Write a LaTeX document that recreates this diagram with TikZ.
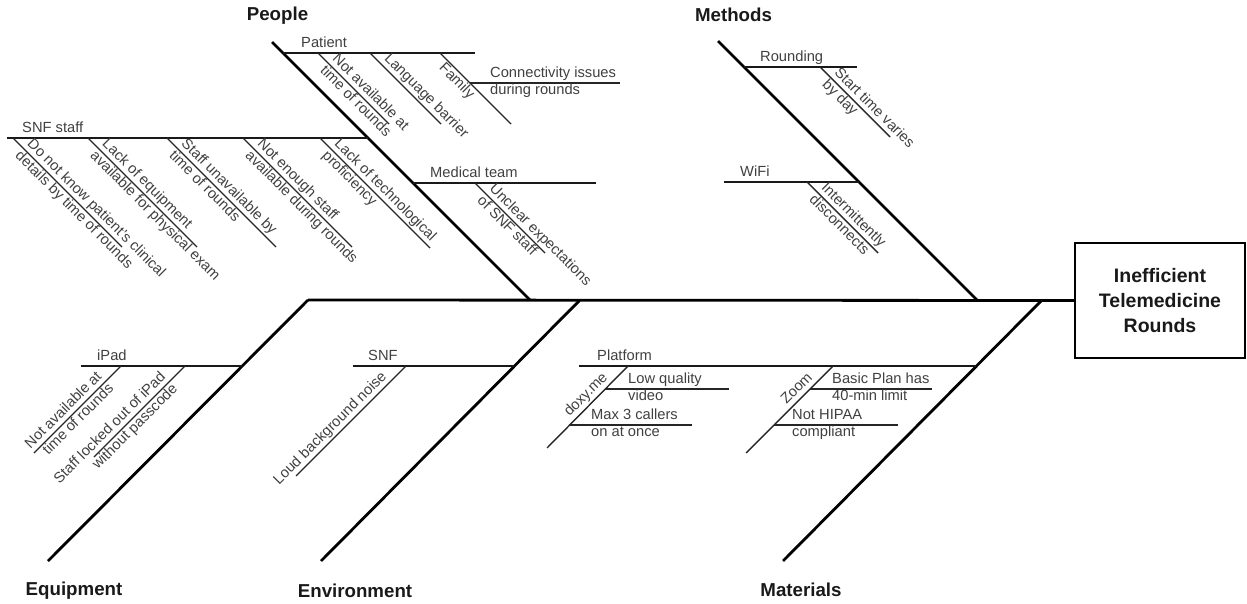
\documentclass[tikz,border=0pt]{standalone}
\usepackage{fontspec}
\setmainfont{Liberation Sans}
\newcommand\fsn{\fontsize{14.7}{17}\selectfont}
\newcommand\fsb{\fontsize{18.7}{22}\selectfont\bfseries}
\newcommand\fsbox{\fontsize{19.5}{25}\selectfont\bfseries}
\newcommand\twol[2]{\strut#1\\\strut#2}
\newcommand\onel[1]{\strut#1}
\tikzset{
  bone/.style={line width=2.8pt, black},
  catline/.style={line width=1.8pt, black!90},
  subline/.style={line width=1.4pt, black!85},
  txt/.style={font=\fsn, text=black!75, inner sep=0pt},
  dr2/.style={txt, align=left, rotate=-45, anchor=west},
  dra/.style={txt, rotate=-45, anchor=south west},
  drb/.style={txt, rotate=-45, anchor=north west},
  ul2/.style={txt, align=right, rotate=45, anchor=east},
  ula/.style={txt, rotate=45, anchor=south east},
  hz2/.style={txt, align=left, anchor=west},
  hza/.style={txt, anchor=south west},
  cattitle/.style={font=\fsb, text=black!90, inner sep=0pt},
  effect/.style={draw, line width=2.3pt, minimum width=170pt, minimum height=115pt,
                 align=center, font=\fsbox, text=black!90, inner sep=0pt}
}
\begin{document}
\begin{tikzpicture}[x=1pt, y=-1pt, line cap=butt]
\useasboundingbox (0,0) rectangle (1247,604);

% effect box and spine
\node[effect] (eff) at (1160,300.5) {Inefficient\\Telemedicine\\Rounds};
\coordinate (spL) at (308,300);
\draw[bone] (spL) -- (eff.west);

% main bones
\coordinate (pT) at (272,42);   \coordinate (pB) at (530,300);
\coordinate (mT) at (718,41);   \coordinate (mB) at (977,300);
\coordinate (eT) at (308,300);  \coordinate (eB) at (48,561);
\coordinate (nT) at (580,300);  \coordinate (nB) at (321,561);
\coordinate (aT) at (1042,300); \coordinate (aB) at (783,561);
\draw[bone] (pT) -- (pB);
\draw[bone] (mT) -- (mB);
\draw[bone] (eT) -- (eB);
\draw[bone] (nT) -- (nB);
\draw[bone] (aT) -- (aB);

% category titles
\node[cattitle] (tPeople) at (277.5,16) {People};
\node[cattitle] (tMethods) at (733.5,15) {Methods};
\node[cattitle] (tEquip) at (74,591) {Equipment};
\node[cattitle] (tEnv) at (355,591) {Environment};
\node[cattitle] (tMat) at (801,590) {Materials};

% ---------- People ----------
\coordinate (paL) at (283,53); \coordinate (paR) at (475,53);
\draw[catline] (paL) -- (paR);
\node[hza] (lPatient) at (301,53) {\onel{Patient}};

\coordinate (pa1a) at (318,53); \coordinate (pa1b) at (389,124);
\draw[subline] (pa1a) -- (pa1b);
\node[dr2] (tpa1) at (328,63) {\twol{Not available at}{time of rounds}};

\coordinate (pa2a) at (370,53); \coordinate (pa2b) at (441,124);
\draw[subline] (pa2a) -- (pa2b);
\node[dra] (tpa2) at (380,63) {\onel{Language barrier}};

\coordinate (pa3a) at (440,53); \coordinate (pa3b) at (511,124);
\draw[subline] (pa3a) -- (pa3b);
\node[drb] (tpa3) at (447,60) {\onel{Family}};

\coordinate (pa4a) at (470,83); \coordinate (pa4b) at (620,83);
\draw[subline] (pa4a) -- (pa4b);
\node[hz2] (tpa4) at (490,83) {\twol{Connectivity issues}{during rounds}};

\coordinate (snL) at (7,138); \coordinate (snR) at (368,138);
\draw[catline] (snL) -- (snR);
\node[hza] (lSNFstaff) at (22,138) {\onel{SNF staff}};

\coordinate (s1a) at (13,138);  \coordinate (s1b) at (122,247);
\coordinate (s2a) at (88,138);  \coordinate (s2b) at (197,247);
\coordinate (s3a) at (167,138); \coordinate (s3b) at (276,247);
\coordinate (s4a) at (243,138); \coordinate (s4b) at (352,247);
\coordinate (s5a) at (320,138); \coordinate (s5b) at (430,248);
\draw[subline] (s1a) -- (s1b);
\draw[subline] (s2a) -- (s2b);
\draw[subline] (s3a) -- (s3b);
\draw[subline] (s4a) -- (s4b);
\draw[subline] (s5a) -- (s5b);
\node[dr2] (ts1) at (23,148) {\twol{Do not know patient's clinical}{details by time of rounds}};
\node[dr2] (ts2) at (98,148) {\twol{Lack of equipment}{available for physical exam}};
\node[dr2] (ts3) at (177,148) {\twol{Staff unavailable by}{time of rounds}};
\node[dr2] (ts4) at (253,148) {\twol{Not enough staff}{available during rounds}};
\node[dr2] (ts5) at (330,148) {\twol{Lack of technological}{proficiency}};

\coordinate (mtL) at (413,183); \coordinate (mtR) at (596,183);
\draw[catline] (mtL) -- (mtR);
\node[hza] (lMedteam) at (430,183) {\onel{Medical team}};
\coordinate (mt1a) at (475,183); \coordinate (mt1b) at (545,253);
\draw[subline] (mt1a) -- (mt1b);
\node[dr2] (tmt1) at (485,193) {\twol{Unclear expectations}{of SNF staff}};

% ---------- Methods ----------
\coordinate (roL) at (744,67); \coordinate (roR) at (857,67);
\draw[catline] (roL) -- (roR);
\node[hza] (lRounding) at (760,67) {\onel{Rounding}};
\coordinate (ro1a) at (820,67); \coordinate (ro1b) at (890,137);
\draw[subline] (ro1a) -- (ro1b);
\node[dr2] (tro1) at (830,77) {\twol{Start time varies}{by day}};

\coordinate (wiL) at (724,182); \coordinate (wiR) at (859,182);
\draw[catline] (wiL) -- (wiR);
\node[hza] (lWiFi) at (740,182) {\onel{WiFi}};
\coordinate (wi1a) at (807,182); \coordinate (wi1b) at (878,253);
\draw[subline] (wi1a) -- (wi1b);
\node[dr2] (twi1) at (817,192) {\twol{Intermittently}{disconnects}};

% ---------- Equipment ----------
\coordinate (ipL) at (81,366); \coordinate (ipR) at (242,366);
\draw[catline] (ipL) -- (ipR);
\node[hza] (liPad) at (97,366) {\onel{iPad}};
\coordinate (ip1a) at (121,366); \coordinate (ip1b) at (34,453);
\draw[subline] (ip1a) -- (ip1b);
\node[ul2] (tip1) at (106,381) {\twol{Not available at}{time of rounds}};
\coordinate (ip2a) at (185,366); \coordinate (ip2b) at (94,457);
\draw[subline] (ip2a) -- (ip2b);
\node[ul2] (tip2) at (170,381) {\twol{Staff locked out of iPad}{without passcode}};

% ---------- Environment ----------
\coordinate (sfL) at (353,366); \coordinate (sfR) at (514,366);
\draw[catline] (sfL) -- (sfR);
\node[hza] (lSNF) at (368,366) {\onel{SNF}};
\coordinate (sf1a) at (406,366); \coordinate (sf1b) at (296,476);
\draw[subline] (sf1a) -- (sf1b);
\node[ula] (tsf1) at (391,381) {\onel{Loud background noise}};

% ---------- Materials ----------
\coordinate (plL) at (579,366); \coordinate (plR) at (976,366);
\draw[catline] (plL) -- (plR);
\node[hza] (lPlatform) at (597,366) {\onel{Platform}};

\coordinate (dxa) at (628,366); \coordinate (dxb) at (547,448);
\draw[subline] (dxa) -- (dxb);
\node[ula] (tdx) at (612,382) {\onel{doxy.me}};
\coordinate (lqa) at (605,389); \coordinate (lqb) at (729,389);
\draw[subline] (lqa) -- (lqb);
\node[hz2] (tlq) at (628,389) {\twol{Low quality}{video}};
\coordinate (m3a) at (569,425); \coordinate (m3b) at (692,425);
\draw[subline] (m3a) -- (m3b);
\node[hz2] (tm3) at (591,425) {\twol{Max 3 callers}{on at once}};

\coordinate (zma) at (833,366); \coordinate (zmb) at (746,453);
\draw[subline] (zma) -- (zmb);
\node[ula] (tzm) at (817,382) {\onel{Zoom}};
\coordinate (bpa) at (810,389); \coordinate (bpb) at (932,389);
\draw[subline] (bpa) -- (bpb);
\node[hz2] (tbp) at (832,389) {\twol{Basic Plan has}{40-min limit}};
\coordinate (hpa) at (774,425); \coordinate (hpb) at (898,425);
\draw[subline] (hpa) -- (hpb);
\node[hz2] (thp) at (792,425) {\twol{Not HIPAA}{compliant}};
\end{tikzpicture}
\end{document}
